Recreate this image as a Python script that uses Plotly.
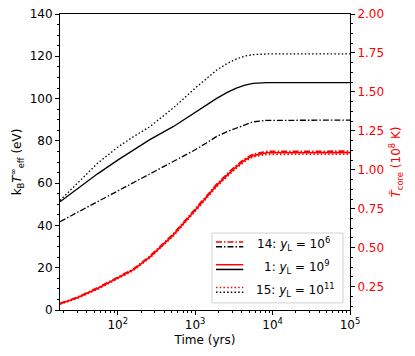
import plotly.graph_objects as go

# time grid (yrs)
time_yrs = [18, 30, 55, 100, 160, 260, 520, 950, 1400, 1900, 2600, 3400, 4400, 5600, 8400, 20000, 100000]

# k_B T_eff^inf (eV), black curves
teff_y6 = [41.8, 46.1, 51.1, 56.1, 60.0, 64.1, 70.1, 75.3, 79.0, 82.1, 84.4, 86.1, 87.8, 89.0, 89.7, 89.8, 89.8]
teff_y9 = [51.2, 57.4, 64.4, 70.9, 75.7, 80.6, 86.7, 93.0, 96.8, 100.1, 102.9, 104.9, 106.4, 107.2, 107.5, 107.5, 107.5]
teff_y11 = [51.8, 60.0, 69.4, 77.0, 82.0, 86.7, 95.5, 104.2, 109.4, 113.5, 116.6, 118.7, 120.1, 120.8, 121.1, 121.1, 121.1]

# T_core (1e8 K), red curves
tcore_y6 = [0.143, 0.182, 0.243, 0.309, 0.364, 0.446, 0.588, 0.736, 0.831, 0.908, 0.975, 1.028, 1.072, 1.100, 1.118, 1.12, 1.12]
tcore_y9 = [0.140, 0.178, 0.238, 0.304, 0.359, 0.440, 0.581, 0.728, 0.822, 0.900, 0.966, 1.019, 1.063, 1.091, 1.109, 1.11, 1.11]
tcore_y11 = [0.137, 0.174, 0.233, 0.299, 0.354, 0.434, 0.574, 0.720, 0.814, 0.892, 0.957, 1.010, 1.054, 1.082, 1.099, 1.10, 1.10]

legend_labels = [
    "14: <i>y</i><sub>L</sub> = 10<sup>6</sup>",
    "1: <i>y</i><sub>L</sub> = 10<sup>9</sup>",
    "15: <i>y</i><sub>L</sub> = 10<sup>11</sup>",
]

DASHDOT = "6px,2px,1.5px,2px"
DOT = "1.5px,2.2px"
FONT = "DejaVu Sans"

fig = go.Figure()

for vals, dash in [(teff_y6, DASHDOT), (teff_y9, "solid"), (teff_y11, DOT)]:
    fig.add_trace(go.Scatter(
        x=time_yrs, y=vals, mode="lines", showlegend=False,
        line=dict(color="black", width=1.3, dash=dash),
    ))

for vals, dash in [(tcore_y6, DASHDOT), (tcore_y9, "solid"), (tcore_y11, DOT)]:
    fig.add_trace(go.Scatter(
        x=time_yrs, y=vals, mode="lines", showlegend=False, yaxis="y2",
        line=dict(color="red", width=1.6, dash=dash),
    ))

# hand-drawn legend (red over black handles)
shapes = [dict(type="rect", xref="paper", yref="paper", x0=0.524, x1=0.976, y0=0.024, y1=0.260,
               line=dict(color="#d0d0d0", width=1), fillcolor="rgba(255,255,255,0.8)")]
rows_y = [0.222, 0.145, 0.068]
text_x = [0.672, 0.696, 0.669]
for (dash, ry, tx, label) in zip([DASHDOT, "solid", DOT], rows_y, text_x, legend_labels):
    for col, off in [("red", 0.008), ("black", -0.008)]:
        shapes.append(dict(type="line", xref="paper", yref="paper", x0=0.538, x1=0.632,
                           y0=ry + off, y1=ry + off, line=dict(color=col, width=1.5, dash=dash)))
    fig.add_annotation(x=tx, y=ry, xref="paper", yref="paper", text=label, showarrow=False,
                       xanchor="left", yanchor="middle", font=dict(family=FONT, size=12, color="black"))

minor_x = [m * 10 ** e for e in range(1, 5) for m in range(2, 10)]

fig.update_layout(
    width=407, height=348,
    margin=dict(l=52, r=65, t=6, b=46),
    paper_bgcolor="white", plot_bgcolor="white",
    font=dict(family=FONT, size=12, color="black"),
    shapes=shapes,
    xaxis=dict(
        type="log", range=[1.255, 5], automargin=False, ticklabeloverflow="allow",
        tickvals=[100, 1000, 10000, 100000],
        ticktext=["10<sup>2</sup>", "10<sup>3</sup>", "10<sup>4</sup>", "10<sup>5</sup>"],
        ticks="outside", ticklen=4, tickcolor="black", showgrid=False, zeroline=False,
        showline=True, linecolor="black", linewidth=1, mirror=True,
        minor=dict(tickvals=minor_x, ticks="outside", ticklen=2, tickcolor="black", showgrid=False),
        title=dict(text="Time (yrs)", standoff=4, font=dict(size=12)),
    ),
    yaxis=dict(
        range=[0, 140], dtick=20, ticks="outside", ticklen=4, tickcolor="black", automargin=False,
        ticklabeloverflow="allow",
        showgrid=False, zeroline=False, showline=True, linecolor="black", linewidth=1,
        minor=dict(dtick=5, ticks="outside", ticklen=2, tickcolor="black", showgrid=False),
        title=dict(text="k<sub>B</sub><i>T</i><sup>∞</sup><sub>eff</sub> (eV)", standoff=6, font=dict(size=12)),
    ),
    yaxis2=dict(
        overlaying="y", side="right", range=[0.1, 2.0], tick0=0.25, dtick=0.25, automargin=False,
        ticklabeloverflow="allow",
        tickformat=".2f", ticks="outside", ticklen=4, tickcolor="black",
        tickfont=dict(color="red", size=12), showgrid=False, zeroline=False,
        showline=True, linecolor="black", linewidth=1,
        minor=dict(tick0=0.0, dtick=0.0625, ticks="outside", ticklen=2, tickcolor="black", showgrid=False),
        title=dict(text="<i>T\u0303</i><sub>core</sub> (10<sup>8</sup> K)", standoff=8,
                   font=dict(size=12, color="red")),
    ),
)

fig.write_html("out.html")
